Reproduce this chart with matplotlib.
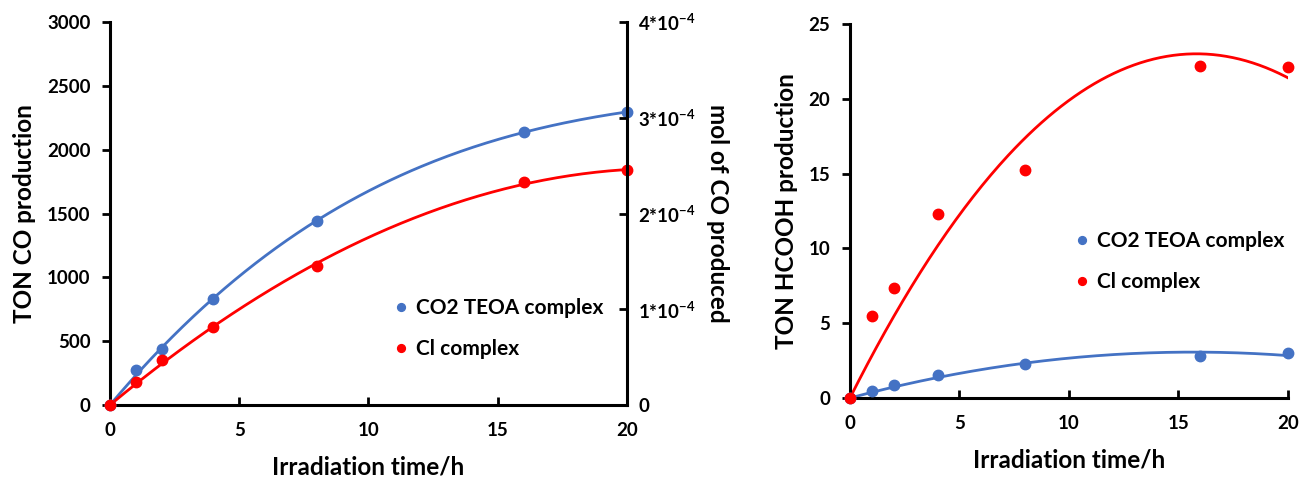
import numpy as np
import matplotlib
matplotlib.use("Agg")
import matplotlib.pyplot as plt

# irradiation times (h)
t = [0, 1, 2, 4, 8, 16, 20]

# TON CO (left panel)
co_teoa = [0, 274, 439, 833, 1440, 2140, 2294]
co_cl = [0, 180, 352, 613, 1088, 1744, 1838]

# TON HCOOH (right panel)
hcooh_teoa = [0, 0.5, 0.9, 1.55, 2.3, 2.8, 3.0]
hcooh_cl = [0, 5.5, 7.35, 12.3, 15.25, 22.2, 22.15]

mol_ticks = [0, 1e-4, 2e-4, 3e-4, 4e-4]
mol_labels = ["0", "1*10$^{-4}$", "2*10$^{-4}$", "3*10$^{-4}$", "4*10$^{-4}$"]

BLUE = "#4472C4"
RED = "#FF0000"

plt.rcParams["font.family"] = ["Lato", "DejaVu Sans"]
plt.rcParams["font.weight"] = "bold"
plt.rcParams["mathtext.fontset"] = "custom"
plt.rcParams["mathtext.rm"] = "Lato:bold"
plt.rcParams["mathtext.it"] = "Lato:bold"
plt.rcParams["mathtext.bf"] = "Lato:bold"


def fit_curve(x, y, deg):
    # polynomial trendline forced through the origin
    x = np.asarray(x, float)
    y = np.asarray(y, float)
    A = np.column_stack([x ** k for k in range(1, deg + 1)])
    coef = np.linalg.lstsq(A, y, rcond=None)[0]
    xs = np.linspace(0, x.max(), 200)
    ys = sum(c * xs ** (k + 1) for k, c in enumerate(coef))
    return xs, ys


def style_axis(ax):
    ax.spines["top"].set_visible(False)
    for s in ["left", "bottom", "right"]:
        ax.spines[s].set_linewidth(2.2)
    ax.tick_params(axis="y", direction="out", length=6, width=2, labelsize=13.5, pad=8)
    ax.tick_params(axis="x", direction="in", length=6, width=2, labelsize=13.5, pad=12)
    for lab in ax.get_xticklabels() + ax.get_yticklabels():
        lab.set_fontweight("bold")


LABEL_FS = 17.5
LEG_FS = 15

fig = plt.figure(figsize=(13, 4.84), dpi=100)

# ---- left panel ----
ax1 = fig.add_axes([0.0846, 0.1632, 0.3977, 0.7913])
xs, ys = fit_curve(t, co_teoa, 3)
ax1.plot(xs, ys, color=BLUE, lw=2, zorder=2)
xs, ys = fit_curve(t, co_cl, 3)
ax1.plot(xs, ys, color=RED, lw=2, zorder=2)
ax1.plot(t, co_teoa, "o", color=BLUE, ms=7.5, label="CO2 TEOA complex", zorder=3, clip_on=False)
ax1.plot(t, co_cl, "o", color=RED, ms=7.5, label="Cl complex", zorder=3, clip_on=False)
ax1.set_xlim(0, 20)
ax1.set_ylim(0, 3000)
ax1.set_xticks([0, 5, 10, 15, 20])
ax1.set_yticks(range(0, 3001, 500))
style_axis(ax1)
ax1.spines["right"].set_visible(False)
ax1.set_xlabel("Irradiation time/h", fontsize=LABEL_FS, fontweight="bold", labelpad=12)
ax1.set_ylabel("TON CO production", fontsize=LABEL_FS, fontweight="bold", labelpad=8)
ax1.legend(loc="lower right", bbox_to_anchor=(0.99, 0.071), frameon=False,
           handlelength=0.6, handletextpad=0.4, markerscale=0.75,
           labelspacing=1.0, prop={"weight": "bold", "size": LEG_FS})

ax1b = ax1.twinx()
ax1b.set_ylim(0, 4e-4)
ax1b.set_yticks(mol_ticks)
ax1b.set_yticklabels(mol_labels)
ax1b.spines["top"].set_visible(False)
ax1b.spines["left"].set_visible(False)
ax1b.spines["bottom"].set_visible(False)
ax1b.spines["right"].set_linewidth(2.2)
ax1b.tick_params(axis="y", direction="in", length=6, width=2, labelsize=13.5, pad=8)
for lab in ax1b.get_yticklabels():
    lab.set_fontweight("bold")
ax1b.set_ylabel("mol of CO produced", fontsize=LABEL_FS, fontweight="bold",
                rotation=-90, labelpad=24)

# ---- right panel ----
ax2 = fig.add_axes([0.6538, 0.1777, 0.3369, 0.7727])
xs, ys = fit_curve(t, hcooh_teoa, 2)
ax2.plot(xs, ys, color=BLUE, lw=2, zorder=2)
xs, ys = fit_curve(t, hcooh_cl, 2)
ax2.plot(xs, ys, color=RED, lw=2, zorder=2)
ax2.plot(t, hcooh_teoa, "o", color=BLUE, ms=7.5, label="CO2 TEOA complex", zorder=3, clip_on=False)
ax2.plot(t, hcooh_cl, "o", color=RED, ms=7.5, label="Cl complex", zorder=3, clip_on=False)
ax2.set_xlim(0, 20)
ax2.set_ylim(0, 25)
ax2.set_xticks([0, 5, 10, 15, 20])
ax2.set_yticks(range(0, 26, 5))
style_axis(ax2)
ax2.spines["right"].set_visible(False)
ax2.set_xlabel("Irradiation time/h", fontsize=LABEL_FS, fontweight="bold", labelpad=12)
ax2.set_ylabel("TON HCOOH production", fontsize=LABEL_FS, fontweight="bold", labelpad=8)
ax2.legend(loc="lower right", bbox_to_anchor=(1.034, 0.233), frameon=False,
           handlelength=0.6, handletextpad=0.4, markerscale=0.75,
           labelspacing=1.0, prop={"weight": "bold", "size": LEG_FS})

fig.savefig("out.png", dpi=100)
